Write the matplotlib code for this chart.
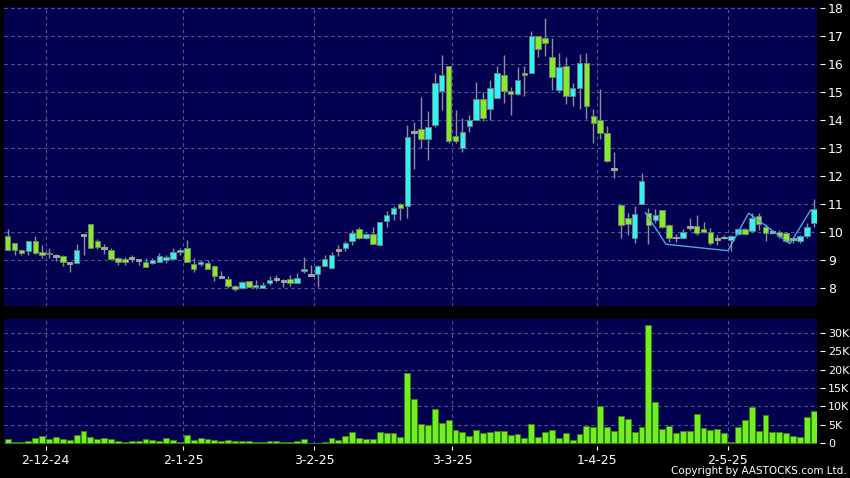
import numpy as np
import matplotlib
matplotlib.use("Agg")
import matplotlib.pyplot as plt

# ---------------- data ----------------
opens = [9.86, 9.62, 9.39, 9.33, 9.71, 9.32, 9.22, 9.17, 9.17, 8.92,
         8.90, 9.90, 10.31, 9.68, 9.45, 9.36, 9.09, 9.07, 9.10, 9.02,
         8.95, 8.90, 8.95, 9.00, 9.07, 9.29, 9.46, 8.86, 8.86, 8.90,
         8.82, 8.41, 8.33, 8.10, 8.00, 8.25, 8.07, 8.02, 8.21, 8.33,
         8.26, 8.33, 8.20, 8.64, 8.47, 8.50, 8.81, 8.73, 9.38, 9.45,
         9.69, 10.14, 9.79, 9.93, 9.57, 10.40, 10.67, 11.00, 10.93, 13.59,
         13.71, 13.33, 13.83, 15.05, 15.93, 13.43, 13.02, 13.81, 14.02, 14.76,
         14.40, 14.81, 15.62, 15.04, 14.93, 15.66, 15.71, 17.00, 16.93, 16.25,
         15.07, 15.93, 14.86, 15.14, 16.04, 14.17, 14.00, 13.54, 12.25, 10.99,
         10.50, 9.82, 11.01, 10.71, 10.44, 10.79, 10.25, 9.82, 9.82, 10.21,
         10.24, 10.14, 10.02, 9.76, 9.82, 9.74, 9.96, 10.12, 10.05, 10.60,
         10.18, 10.02, 10.02, 9.98, 9.76, 9.70, 9.86, 10.33]
highs = [10.12, 9.64, 9.42, 9.70, 9.87, 9.55, 9.45, 9.24, 9.20, 8.95,
         9.58, 9.95, 10.31, 9.75, 9.60, 9.45, 9.12, 9.12, 9.20, 9.05,
         9.10, 9.10, 9.25, 9.20, 9.45, 9.45, 9.72, 9.10, 9.00, 9.00,
         8.85, 8.62, 8.43, 8.12, 8.26, 8.28, 8.30, 8.24, 8.45, 8.48,
         8.33, 8.48, 8.55, 9.14, 8.83, 8.85, 9.20, 9.30, 9.55, 9.70,
         10.10, 10.20, 9.98, 10.20, 10.36, 10.75, 10.95, 11.05, 13.83, 13.93,
         14.82, 14.33, 15.71, 16.33, 15.93, 14.36, 14.07, 14.20, 15.38, 15.00,
         15.45, 15.95, 16.33, 15.21, 15.89, 15.95, 17.21, 17.00, 17.64, 16.96,
         16.39, 16.25, 15.32, 16.37, 16.40, 14.40, 15.12, 13.80, 12.88, 11.00,
         10.70, 10.95, 12.14, 10.89, 10.85, 10.80, 10.30, 9.93, 10.14, 10.50,
         10.62, 10.38, 10.17, 9.90, 9.90, 9.90, 10.15, 10.15, 10.70, 10.70,
         10.30, 10.10, 10.10, 10.00, 9.80, 9.90, 10.35, 11.19]
lows = [9.36, 9.20, 9.20, 9.20, 9.22, 9.10, 9.10, 8.98, 8.81, 8.60,
        8.90, 9.20, 9.45, 9.41, 9.24, 9.06, 8.83, 8.83, 8.95, 8.85,
        8.76, 8.88, 8.95, 8.90, 9.05, 9.20, 8.93, 8.60, 8.80, 8.70,
        8.26, 8.36, 8.02, 7.90, 7.98, 8.05, 7.98, 8.00, 8.12, 8.23,
        8.05, 8.10, 8.18, 8.57, 8.45, 8.05, 8.80, 8.70, 9.15, 9.35,
        9.55, 9.75, 9.75, 9.58, 9.55, 10.20, 10.45, 10.45, 10.52, 12.26,
        13.02, 12.59, 13.75, 14.38, 13.20, 13.19, 12.86, 13.60, 14.00, 13.98,
        14.02, 14.80, 14.62, 14.19, 14.90, 14.88, 15.70, 16.27, 16.31, 15.09,
        15.00, 14.58, 14.50, 14.40, 14.05, 13.19, 13.33, 12.50, 11.93, 9.82,
        9.91, 9.64, 11.00, 9.58, 10.35, 10.15, 9.67, 9.67, 9.80, 10.10,
        9.90, 9.98, 9.55, 9.55, 9.75, 9.35, 9.90, 9.90, 10.00, 10.10,
        9.70, 9.95, 9.80, 9.65, 9.62, 9.62, 9.80, 10.20]
closes = [9.38, 9.38, 9.25, 9.69, 9.26, 9.20, 9.28, 9.17, 8.95, 8.92,
          9.36, 9.90, 9.45, 9.49, 9.45, 9.06, 8.93, 8.93, 9.10, 9.02,
          8.76, 9.00, 9.17, 9.11, 9.29, 9.36, 8.93, 8.69, 8.93, 8.71,
          8.43, 8.41, 8.10, 7.98, 8.24, 8.06, 8.13, 8.14, 8.29, 8.33,
          8.26, 8.20, 8.39, 8.71, 8.47, 8.79, 9.07, 9.19, 9.38, 9.62,
          9.97, 9.79, 9.94, 9.60, 10.36, 10.62, 10.86, 10.88, 13.40, 13.59,
          13.33, 13.75, 15.33, 15.62, 13.26, 13.26, 13.57, 14.00, 14.76, 14.07,
          15.14, 15.69, 15.05, 14.93, 15.44, 15.62, 17.00, 16.54, 16.75, 15.54,
          15.89, 14.86, 15.14, 16.04, 14.52, 13.90, 13.55, 12.56, 12.25, 10.26,
          10.29, 10.67, 11.82, 10.26, 10.63, 10.20, 9.79, 9.82, 10.02, 10.21,
          9.98, 10.00, 9.64, 9.76, 9.82, 9.86, 10.12, 9.96, 10.50, 10.29,
          9.98, 10.02, 9.86, 9.70, 9.76, 9.86, 10.18, 10.83]
volumes = [1200, 450, 360, 630, 1350, 1990, 1260, 1720, 1080, 900,
           2260, 3250, 1630, 1080, 1350, 1260, 540, 270, 540, 540,
           1080, 990, 720, 1450, 990, 360, 2170, 990, 1450, 1080,
           900, 540, 900, 540, 720, 540, 360, 360, 540, 630,
           360, 360, 720, 1260, 90, 90, 270, 1450, 990, 1900,
           3070, 1350, 1080, 1260, 2980, 2890, 2710, 1720, 18980, 12020,
           5240, 5060, 9200, 5500, 6400, 3600, 3070, 2000, 3600, 2700,
           3070, 3340, 3340, 2350, 2440, 1350, 5150, 1720, 3070, 3500,
           1540, 2700, 1000, 2440, 4600, 4340, 10100, 4500, 3250, 7300,
           6500, 3160, 4500, 32100, 11300, 3900, 4700, 2700, 3340, 3340,
           7950, 4250, 3500, 3980, 2800, 270, 4340, 6400, 9900, 3340,
           7800, 2980, 3160, 2700, 2000, 1800, 7000, 8770]

date_labels = ["2-12-24", "2-1-25", "3-2-25", "3-3-25", "1-4-25", "2-5-25"]
date_index = [6, 26, 45, 65, 86, 105]

trend_index = [93, 96, 105, 108, 114, 117]
trend_values = [10.71, 9.58, 9.35, 10.69, 9.60, 10.80]

price_ticks = [8, 9, 10, 11, 12, 13, 14, 15, 16, 17, 18]
vol_ticks = [0, 5000, 10000, 15000, 20000, 25000, 30000]
vol_tick_labels = ["0", "5K", "10K", "15K", "20K", "25K", "30K"]

# ---------------- style ----------------
BG = "#010150"
GRID = "#55558f"
UP = "#30f4f4"
DOWN = "#84ec22"
DOJI = "#9aa89a"
WICK = "#8c8c9c"
EDGE = "#707a7a"
VOL = "#70f020"
VOL_EDGE = "#3a8010"

o = np.array(opens)
h = np.array(highs)
l = np.array(lows)
c = np.array(closes)
v = np.array(volumes)
x = np.arange(len(o))

W, H = 850, 478
fig = plt.figure(figsize=(W / 100, H / 100), dpi=100, facecolor="black")
ax1 = fig.add_axes([4 / W, 1 - 306 / H, 813 / W, (306 - 6.7) / H])
ax2 = fig.add_axes([4 / W, 1 - 444 / H, 813 / W, (444 - 319) / H])

grid_x = np.array(date_index) - 0.5

for ax in (ax1, ax2):
    ax.set_facecolor(BG)
    for s in ax.spines.values():
        s.set_visible(False)
    ax.set_xlim(-0.54, 117.47)
    ax.yaxis.tick_right()
    ax.spines["right"].set_position(("outward", 2.5))
    ax.spines["bottom"].set_position(("outward", 1.5))
    ax.set_xticks(grid_x)
    ax.grid(True, color=GRID, linestyle=(0, (3, 3)), linewidth=0.8, zorder=0)
    ax.set_axisbelow(True)
    ax.tick_params(axis="y", colors="white", length=3.5, width=0.8, pad=2,
                   labelsize=9)

# ---- price panel ----
ax1.set_ylim(7.375, 18.06)
ax1.set_yticks(price_ticks)
ax1.set_yticklabels([str(t) for t in price_ticks])
ax1.tick_params(axis="x", length=0, labelbottom=False)

ax1.vlines(x, l, h, color=WICK, linewidth=1, zorder=2)
body_bot = np.minimum(o, c)
body_h = np.abs(c - o)
up = c > o
down = c < o
doji = c == o
body_h = np.maximum(body_h, 0.06)
ax1.bar(x[up], body_h[up], bottom=body_bot[up], width=0.8, color=UP,
        edgecolor=EDGE, linewidth=0.7, zorder=3)
ax1.bar(x[down], body_h[down], bottom=body_bot[down], width=0.8, color=DOWN,
        edgecolor=EDGE, linewidth=0.7, zorder=3)
ax1.bar(x[doji], np.full(doji.sum(), 0.07), bottom=o[doji] - 0.035, width=0.8,
        color=DOJI, edgecolor=DOJI, linewidth=0.7, zorder=3)

ax1.plot(np.array(trend_index) - 0.45, trend_values, color="#4da6e6",
         linewidth=1, zorder=4)

# ---- volume panel ----
ax2.set_ylim(-190, 33710)
ax2.set_yticks(vol_ticks)
ax2.set_yticklabels(vol_tick_labels)
ax2.tick_params(axis="y", labelsize=8)
ax2.bar(x, v, width=0.86, color=VOL, edgecolor=VOL_EDGE, linewidth=0.7,
        zorder=3)
ax2.set_xticklabels(date_labels)
ax2.tick_params(axis="x", colors="white", length=3, width=0.8, pad=3,
                labelsize=9)

fig.text(0.996, 0.004, "Copyright by AASTOCKS.com Ltd.", ha="right",
         va="bottom", color="white", fontsize=7.5)

fig.savefig("out.png", dpi=100, facecolor="black")
